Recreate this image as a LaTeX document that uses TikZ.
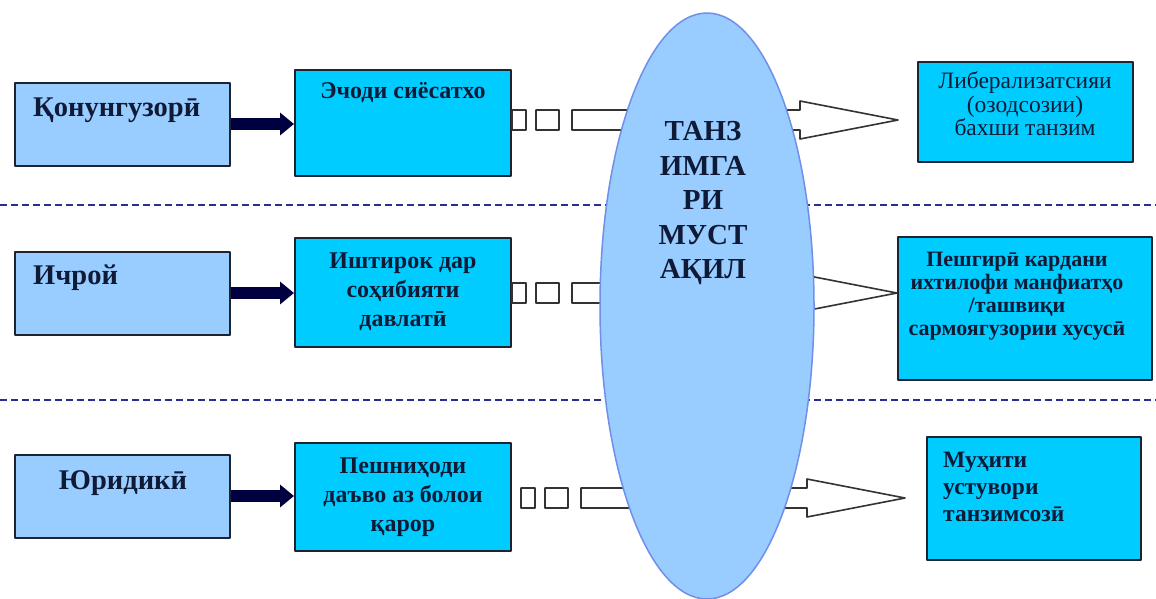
\documentclass[tikz,border=0pt]{standalone}
\usepackage{fontspec}
\setmainfont{Liberation Serif}
\usetikzlibrary{arrows.meta,shapes.geometric,calc}
\definecolor{leftblue}{HTML}{99CCFF}
\definecolor{midcyan}{HTML}{00CCFF}
\definecolor{boxline}{HTML}{1C2433}
\definecolor{ink}{HTML}{0E1A36}
\definecolor{navy}{HTML}{000040}
\definecolor{sepblue}{HTML}{2A2F8F}
\definecolor{rim}{HTML}{6F8FEA}
%========striped block arrow: #1 start, #2 tip
\newcommand\stripearrow[2]{%
	\draw[hollow] let \p1=(#1), \p2=(#2) in
	(\x1,\y1+10pt) rectangle (\x1+14pt,\y1-10pt)
	(\x1+24pt,\y1+10pt) rectangle (\x1+47pt,\y1-10pt)
	(\x1+60pt,\y1+10pt) -- (\x2-98pt,\y1+10pt) -- (\x2-98pt,\y1+19pt)
	-- (\x2,\y2) -- (\x2-98pt,\y1-19pt) -- (\x2-98pt,\y1-10pt)
	-- (\x1+60pt,\y1-10pt) -- cycle;
}
\begin{document}
\begin{tikzpicture}[x=1pt,y=-1pt,line join=round,
	box/.style={draw=boxline,line width=2pt,inner sep=0pt},
	lbox/.style={box,fill=leftblue,minimum width=215pt,minimum height=83pt},
	mbox/.style={box,fill=midcyan,minimum width=216pt},
	rbox/.style={box,fill=midcyan},
	ltxt/.style={text=ink,font=\fontsize{28.5}{30}\selectfont\bfseries,inner sep=0pt},
	txt/.style={text=ink,font=\fontsize{24}{29}\selectfont\bfseries,align=center,inner sep=0pt},
	feed/.style={navy,line width=12pt,-{Triangle[length=14pt,width=22pt]}},
	hollow/.style={draw=black!80,fill=white,line width=1.6pt},
	sep/.style={sepblue,line width=2pt,dash pattern=on 7pt off 4pt},
	core/.style={ellipse,draw=rim,line width=1.5pt,fill=leftblue,minimum width=214pt,minimum height=586pt,inner sep=0pt}]
	\useasboundingbox[fill=white] (0,0) rectangle (1156,598);
	%========separators
	\draw[sep] (0,205) -- (1156,205);
	\draw[sep] (0,400) -- (1156,400);
	%========left column
	\node[lbox] (b1) at (122,124) {};
	\node[lbox] (b2) at (122,293) {};
	\node[lbox] (b3) at (122,496) {};
	\node[ltxt,anchor=west] (b1t) at (33,110) {Қонунгузорӣ};
	\node[ltxt,anchor=west] (b2t) at (33,278) {Ичрой};
	\node[ltxt] (b3t) at (123,483) {Юридикӣ};
	%========middle column
	\node[mbox,minimum height=106pt] (m1) at (403,123) {};
	\node[mbox,minimum height=109pt] (m2) at (403,292) {};
	\node[mbox,minimum height=108pt] (m3) at (403,497) {};
	\node[txt] (m1t) at (403,93) {Эчоди сиёсатхо};
	\node[txt] (m2t) at (403,292) {Иштирок дар\\соҳибияти\\давлатӣ};
	\node[txt] (m3t) at (403,497) {Пешниҳоди\\даъво аз болои\\қарор};
	\draw[feed] (b1.east) -- (b1.east -| m1.west);
	\draw[feed] (b2.east) -- (b2.east -| m2.west);
	\draw[feed] (b3.east) -- (b3.east -| m3.west);
	%========right column
	\node[rbox,minimum width=215pt,minimum height=100pt] (r1) at (1025,112) {};
	\node[rbox,minimum width=254pt,minimum height=143pt] (r2) at (1025,308) {};
	\node[rbox,minimum width=214pt,minimum height=123pt] (r3) at (1034,498) {};
	\node[txt,font=\fontsize{23.5}{23.5}\selectfont] (r1t) at (1025,104) {Либерализатсияи\\(озодсозии)\\бахши танзим};
	\node[txt,font=\fontsize{22}{23}\selectfont\bfseries] (r2t) at (1017,296) {Пешгирӣ кардани\\ихтилофи манфиатҳо\\/ташвиқи\\сармоягузории хусусӣ};
	\node[txt,font=\fontsize{23.5}{27}\selectfont\bfseries,align=left,anchor=north west] (r3t) at (943,452) {Муҳити\\устувори\\танзимсозӣ};
	%========striped arrows
	\coordinate (s1) at (m1.east |- 0,120);
	\coordinate (s2) at (m2.east |- 0,293);
	\coordinate (s3) at ([xshift=9pt]m3.east |- 0,498);
	\coordinate (t1) at (898,120);
	\coordinate (t2) at (897,293);
	\coordinate (t3) at (905,498);
	\stripearrow{s1}{t1}
	\stripearrow{s2}{t2}
	\stripearrow{s3}{t3}
	%========centre
	\node[core] (core) at (707,306) {};
	\node[txt,font=\fontsize{29}{34.5}\selectfont\bfseries] (coret) at (703,203) {ТАНЗ\\ИМГА\\РИ\\МУСТ\\АҚИЛ};
\end{tikzpicture}
\end{document}
